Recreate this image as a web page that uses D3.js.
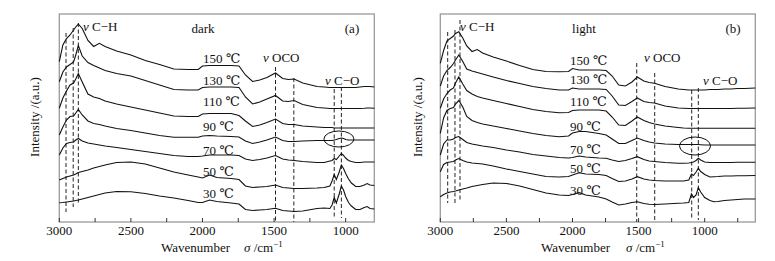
<!DOCTYPE html>
<html>
<head>
<meta charset="utf-8">
<script src="https://cdn.jsdelivr.net/npm/d3@7"></script>
<style>
  body { margin: 0; background: #fff; }
  svg text { font-family: "Liberation Serif", "DejaVu Serif", serif; fill: #111; }
</style>
</head>
<body>
<svg id="chart" width="775" height="261"></svg>
<script>
// wavenumber grids (cm-1)
var darkWave = [3000, 2975, 2950, 2925, 2900, 2885, 2867, 2840, 2800, 2760, 2720, 2680, 2600, 2500, 2400, 2300, 2200, 2100, 2030, 2000,
  1950, 1900, 1800, 1745, 1700, 1650, 1600, 1550, 1490, 1440, 1400, 1360, 1300, 1200, 1150, 1110, 1095, 1080, 1065, 1045,
  1030, 1015, 1000, 980, 960, 930, 900, 870, 850, 830, 800]
var lightWave = [3000, 2975, 2950, 2925, 2900, 2885, 2860, 2830, 2800, 2760, 2720, 2680, 2600, 2500, 2400, 2300, 2200, 2100, 2030, 2000,
  1950, 1900, 1800, 1745, 1700, 1650, 1600, 1550, 1510, 1460, 1420, 1380, 1300, 1200, 1160, 1120, 1100, 1085, 1065, 1048,
  1030, 1000, 960, 930, 900, 850, 800, 750, 700, 617]

var temps = ['150 ℃', '130 ℃', '110 ℃', '90 ℃', '70 ℃', '50 ℃', '30 ℃']

// intensity (a.u., stacked), dark
var dark150 = [160.3,177,183.5,187,192,195,198,193.5,181.5,175.5, 178.7,175.5,171,167,161.5,157.5,153,152.5,152.5,156,
  156.5,156.5,156.5,156,147,140.5,142,144.5,149,143.5, 142.5,143,139,135.5,135, 134.5,134.5,134.5,134.5,134.5,
  134.5,134.5,134.5,134.5,134.5,134.5,135,135.5,135.5,135.5,135]
var dark130 = [140.3,150,155,157.5,160,167,176.5,166,159.5,156.5, 154,151.5,148.5,146,141.5,137,132.5,132,132,134.5,
  135,135,135,134.5,125,118,120,123,126.5,121, 120.5,121.5,117.5,114.5,114, 113.5,113.5,113.5,113.5,113.5,
  113.5,113.5,113.5,113.5,113.5,113.5,113.5,113.7,114,114,113.7]
var dark110 = [113.7,124,131,137,139,143,148.5,140,128,125, 123.5,121,118,115,112,109,106,105.5,105.5,108,
  108.5,108.5,108.5,106.5,101,95.5,97,99.5,103,98.5, 97.5,97.5,96,95,94.5, 94.5,94.5,94,94,94,
  94,94,94,94,94,94,94,94,94,94,94]
var dark90 = [87,95,102,105.5,106,109,112.5,107,101,98.5, 97.5,96,93.5,91.5,89,86.5,84.7,84.7,84.7,86,
  86.5,86,85.5,85,81,78.5,80,82,85,81.5, 80.5,80.5,81,81.5,81.5, 81.5,81.5,82,82.5,83.5,
  84,83.5,82.5,82,82,82,82,82,82,82,82]
var dark70 = [67,74,78.5,79.5,80,82,83.5,81,79,78, 77,76,74.5,72.5,70.5,68.5,66.5,65.5,65.5,66,
  67,67,67,66.5,63,61.5,62.5,64,66.5,63, 62,61.5,60.5,59.5,59.5, 61,61.5,63.5,62.5,66,
  68.5,66.5,64,61.5,60.5,59.5,59.5,60,60,60,60]
var dark50 = [42,43.5,45,46,47,48,49.5,50.5,52,54, 55.5,57,59.5,60,58,54,50,47,45,44,
  47,44.5,43.5,42.5,36,34.5,35,35.5,37,34.5, 34,33.5,33.5,34,34.5, 36,41,47.5,42.5,50,
  57,53.5,48.5,43,39,35.5,35.5,37,38.5,37,36.5]
var dark30 = [19.3,19.5,20,20.5,21,21.5,22,23,24.5,26, 27.5,29,30.5,30.3,28.5,26,24,21.5,19.5,19.5,
  22,20.5,19,18,12.5,11.5,12,12.5,13.7,11.5, 11,10.5,11,13.5,14, 13.5,17,24.5,19,28,
  36,32,25.5,19.5,16,12.5,12.5,14.5,15.5,13.5,13]

// intensity (a.u., stacked), light
var light150 = [158.7,171.5,181,183.5,186,188.5,190.3,184,176,170.5, 172.5,169,165,161,156.5,152.5,150.5,150.3,150.5,153.5,
  152,152,152,151.5,146,137,136,140,145,141, 139.5,138.7,135.5,133,132.5, 132,132,132,132,132,
  132,132,132.5,132.5,132.5,133,133,133.5,133.5,134]
var light130 = [136,146,151.5,154.5,158.5,162,167,160.5,153,151, 149.5,148,145,141.5,138.5,135.5,133.5,132,132,134,
  133,133,133,132.5,126,117,116.5,120.5,124,120.5, 119.5,119,116,114,113.7, 113.5,113.5,113.5,113.5,113.5,
  113.5,113.5,113.5,113.5,113.5,113.5,113.5,113.7,113.7,114]
var light110 = [113.7,123,128.5,132,134,139,145,138,131.5,128, 125.5,124,121.5,118.5,115.5,112.5,110.5,109.3,109.5,111.5,
  112,112,112,111,105,97,96.5,101,105,101.5, 99.5,98,96,94.5,94, 93.7,93.7,93.7,93.7,93.7,
  93.7,93.7,93.7,93.7,93.7,93.7,93.7,93.7,93.7,93.7]
var light90 = [88.7,104,111.5,113.5,114.5,118,121.5,115,105.5,101.5, 99.5,98,96,93.5,91,88.5,86.5,85.3,86,89,
  90.5,90.5,88.5,87,83,78.5,78.5,81.5,84,81.5, 80,79,78,77.5,77.5, 77.5,77.5,77.5,77.5,77.5,
  77.3,77,77,77,77,77,77,77,77,77]
var light70 = [67,78,82,82,83,84.5,85.5,82.5,79.5,78, 77,76,74.5,72,70,67.5,66,64.5,64,64.5,
  66,65,64,63.7,62,60.5,61.5,63.5,65.3,62.5, 61,60.5,59.5,58.7,58.7, 59,59.5,60,61.5,63.7,
  62,60,59.5,59.5,59.5,59.5,59.5,59.7,59.7,59.7]
var light50 = [50.3,57.5,59.5,60,60.5,62,63.5,61.5,60,59, 58.5,58,56,53,50.5,48,45.5,45,45.5,47,
  49.3,48,47.5,46.5,43.5,40.5,41,43,45.3,43, 42,41.5,41,41,41, 42,48,46.5,50,53.7,
  50.5,47.5,45,45.3,45.5,46,46,46.3,46.3,46.5]
var light30 = [25.3,27.5,29,30,30.5,31,32,33,34,35.5, 36.5,37.5,39,38.5,36,32.5,29,27,26.5,27.5,
  29.3,27,25,23,20,17,18,19.5,20.3,18.5, 17.7,17.5,18,18.7,19, 19.5,28,24.5,27,34.3,
  30,24.5,21.5,20.3,20.5,21.5,22,22.5,23,23]

// band markers: wavenumber, top and bottom of the dashed line (a.u.)
var darkBands = [[2953, 189, 10], [2903, 194, 15], [2867, 199, 17], [1490, 155, 0], [1362, 144, 0], [1080, 133, 4], [1030, 135, 4]]
var lightBands = [[2944, 190, 19], [2889, 192, 17], [2851, 202, 20], [1514, 159, 0], [1378, 149, 0], [1098, 132, 2], [1048, 134, 2]]

var majorTicks = [3000, 2500, 2000, 1500, 1000]

var panels = [
  {name: 'dark', tag: '(a)', wave: darkWave, series: [dark150, dark130, dark110, dark90, dark70, dark50, dark30],
   bands: darkBands, domain: [3000, 800], x0: 59.3, x1: 374.3, minorEnd: 1000, ring: [1047, 83, 15, 8],
   labelX: 203, labelY: [62.5, 84.5, 106, 131, 154.5, 176, 197.5], chX: 83, ocoX: 263, coX: 325, titleX: 203, tagX: 352,
   ylab: 35, wnX: 195.5, sigX: 244},
  {name: 'light', tag: '(b)', wave: lightWave, series: [light150, light130, light110, light90, light70, light50, light30],
   bands: lightBands, domain: [3000, 617], x0: 440.3, x1: 755.3, minorEnd: 750, ring: [1073, 76, 15.5, 9],
   labelX: 570, labelY: [64.5, 83.5, 106, 130.5, 154, 172.5, 194.5], chX: 460, ocoX: 644, coX: 703, titleX: 584, tagX: 733,
   ylab: 418, wnX: 575.5, sigX: 626}
]

var svg = d3.select('#chart')
var y = d3.scaleLinear().domain([0, 208]).range([222, 14])

panels.forEach(function(p) {
  var x = d3.scaleLinear().domain(p.domain).range([p.x0, p.x1])
  var g = svg.append('g')

  // frame
  g.append('rect')
    .attr('x', p.x0).attr('y', y(208)).attr('width', p.x1 - p.x0).attr('height', y(0) - y(208))
    .attr('fill', 'none').attr('stroke', '#9a9a9a').attr('stroke-width', 1.3)

  // ticks (inside, every 250)
  var ticks = d3.range(3000, p.minorEnd - 1, -250)
  g.selectAll('.tick').data(ticks).enter().append('line')
    .attr('x1', function(d) { return x(d) }).attr('x2', function(d) { return x(d) })
    .attr('y1', y(0)).attr('y2', y(0) - 4)
    .attr('stroke', '#333').attr('stroke-width', 1)

  g.selectAll('.tl').data(majorTicks).enter().append('text')
    .attr('x', function(d) { return x(d) }).attr('y', 234.5)
    .attr('text-anchor', 'middle').attr('font-size', 13)
    .text(function(d) { return d })

  // dashed band markers
  g.selectAll('.band').data(p.bands).enter().append('line')
    .attr('x1', function(d) { return x(d[0]) }).attr('x2', function(d) { return x(d[0]) })
    .attr('y1', function(d) { return y(d[1]) }).attr('y2', function(d) { return y(d[2]) })
    .attr('stroke', '#222').attr('stroke-width', 1).attr('stroke-dasharray', '4,2.5')

  // spectra
  var line = d3.line()
    .x(function(d, i) { return x(p.wave[i]) })
    .y(function(d) { return y(d) })
  g.selectAll('.spec').data(p.series).enter().append('path')
    .attr('d', line)
    .attr('fill', 'none').attr('stroke', '#111').attr('stroke-width', 1.1)

  // ring around C-O region
  g.append('ellipse')
    .attr('cx', x(p.ring[0])).attr('cy', y(p.ring[1]))
    .attr('rx', p.ring[2]).attr('ry', p.ring[3])
    .attr('fill', 'none').attr('stroke', '#111').attr('stroke-width', 1)

  // temperature labels
  g.selectAll('.temp').data(temps).enter().append('text')
    .attr('x', p.labelX).attr('y', function(d, i) { return p.labelY[i] })
    .attr('font-size', 13)
    .text(function(d) { return d })

  function bandLabel(px, py, txt) {
    var t = g.append('text').attr('x', px).attr('y', py).attr('font-size', 13)
    t.append('tspan').attr('font-style', 'italic').text('ν')
    t.append('tspan').text(' ' + txt)
  }
  bandLabel(p.chX, 31, 'C−H')
  bandLabel(p.ocoX, 62, 'OCO')
  bandLabel(p.coX, 84.5, 'C−O')

  g.append('text').attr('x', p.titleX).attr('y', 33).attr('text-anchor', 'middle').attr('font-size', 13).text(p.name)
  g.append('text').attr('x', p.tagX).attr('y', 33).attr('text-anchor', 'middle').attr('font-size', 13).text(p.tag)

  // axis titles
  g.append('text')
    .attr('transform', 'translate(' + (p.ylab + 4) + ',117) rotate(-90)')
    .attr('text-anchor', 'middle').attr('font-size', 13)
    .text('Intensity /(a.u.)')
  g.append('text').attr('x', p.wnX).attr('y', 252).attr('text-anchor', 'middle').attr('font-size', 13).text('Wavenumber')
  var s = g.append('text').attr('x', p.sigX).attr('y', 252).attr('font-size', 13)
  s.append('tspan').attr('font-style', 'italic').text('σ')
  s.append('tspan').text(' /cm')
  s.append('tspan').attr('dy', -5).attr('font-size', 9).text('−1')
})
</script>
</body>
</html>
